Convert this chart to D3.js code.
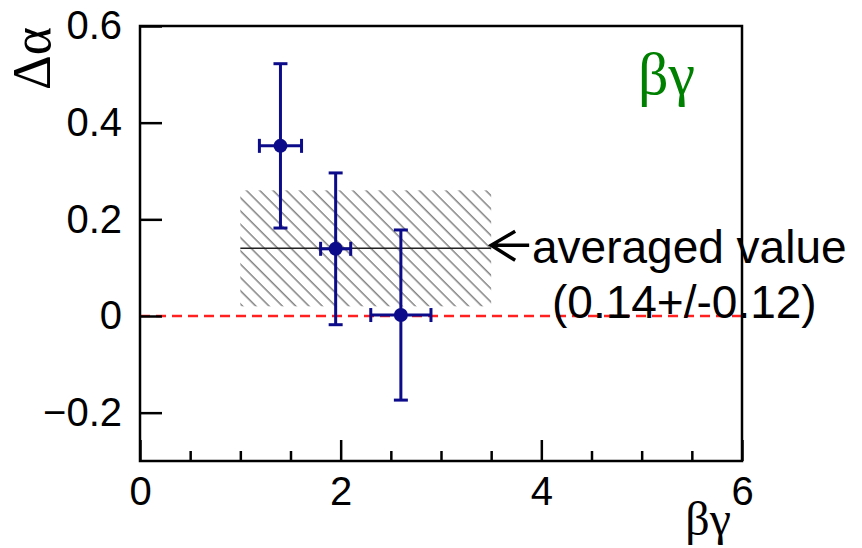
<!DOCTYPE html>
<html>
<head>
<meta charset="utf-8">
<script src="https://cdn.jsdelivr.net/npm/d3@7"></script>
<style>
  body { margin: 0; background: #fff; }
  svg { display: block; }
</style>
</head>
<body>
<div id="chart"></div>
<script>
// measured points (beta*gamma bins)
let betaGamma = [1.4, 1.95, 2.6];
let betaGammaErr = [0.21, 0.15, 0.3];
let deltaAlpha = [0.352, 0.139, 0.002];
let deltaAlphaErr = [0.17, 0.157, 0.176];

// averaged value band
let avgValue = 0.14;
let avgErr = 0.12;
let avgRange = [1, 3.5];

let xTicks = [0, 2, 4, 6];
let xMinorTicks = [0.5, 1, 1.5, 2.5, 3, 3.5, 4.5, 5, 5.5];
let yTicks = [-0.2, 0, 0.2, 0.4, 0.6];
let yTickLabels = ['\u22120.2', '0', '0.2', '0.4', '0.6'];

let width = 862, height = 548;
let margin = {left: 140, right: 120, top: 26, bottom: 87};
let serif = '"Liberation Serif", "Times New Roman", serif';

let xScale = d3.scaleLinear()
  .domain([0, 6])
  .range([margin.left, width - margin.right]);

let yScale = d3.scaleLinear()
  .domain([-0.3, 0.6])
  .range([height - margin.bottom, margin.top]);

let svg = d3.select('#chart').append('svg')
  .attr('width', width)
  .attr('height', height)
  .style('font-family', '"Liberation Sans", Arial, sans-serif');

// hatch pattern
svg.append('defs').append('pattern')
  .attr('id', 'hatch')
  .attr('patternUnits', 'userSpaceOnUse')
  .attr('width', 9.4)
  .attr('height', 9.4)
  .attr('patternTransform', 'rotate(-45)')
  .append('line')
    .attr('x1', 2).attr('y1', 0)
    .attr('x2', 2).attr('y2', 9.4)
    .attr('stroke', '#444')
    .attr('stroke-width', 1);

svg.append('rect')
  .attr('x', xScale(avgRange[0]))
  .attr('y', yScale(avgValue + avgErr))
  .attr('width', xScale(avgRange[1]) - xScale(avgRange[0]))
  .attr('height', yScale(avgValue - avgErr) - yScale(avgValue + avgErr))
  .attr('fill', 'url(#hatch)');

svg.append('line')
  .attr('x1', xScale(avgRange[0]))
  .attr('x2', xScale(avgRange[1]))
  .attr('y1', yScale(avgValue))
  .attr('y2', yScale(avgValue))
  .attr('stroke', '#222')
  .attr('stroke-width', 1.5);

// zero line
svg.append('line')
  .attr('x1', xScale(0))
  .attr('x2', xScale(6))
  .attr('y1', yScale(0))
  .attr('y2', yScale(0))
  .attr('stroke', '#ff2020')
  .attr('stroke-width', 2.4)
  .attr('stroke-dasharray', '10,6');

// axes
let yAxis = d3.axisLeft(yScale)
  .tickValues(yTicks)
  .tickFormat((d, i) => yTickLabels[i])
  .tickSize(-22)
  .tickPadding(18);

let xAxis = d3.axisBottom(xScale)
  .tickValues(xTicks)
  .tickFormat(d3.format('d'))
  .tickSize(-21)
  .tickPadding(16);

let xMinor = d3.axisBottom(xScale)
  .tickValues(xMinorTicks)
  .tickFormat('')
  .tickSize(-10);

let gy = svg.append('g')
  .attr('transform', `translate(${margin.left}, 0)`)
  .call(yAxis);

let gx = svg.append('g')
  .attr('transform', `translate(0, ${height - margin.bottom})`)
  .call(xAxis);

let gxm = svg.append('g')
  .attr('transform', `translate(0, ${height - margin.bottom})`)
  .call(xMinor);

[gy, gx, gxm].forEach(g => {
  g.select('.domain').remove();
  g.selectAll('line').attr('stroke', '#000').attr('stroke-width', 2.5);
  g.selectAll('text')
    .attr('fill', '#000')
    .style('font-size', '40px')
    .style('font-family', '"Liberation Sans", Arial, sans-serif');
});

// frame
svg.append('rect')
  .attr('x', xScale(0))
  .attr('y', yScale(0.6))
  .attr('width', xScale(6) - xScale(0))
  .attr('height', yScale(-0.3) - yScale(0.6))
  .attr('fill', 'none')
  .attr('stroke', '#000')
  .attr('stroke-width', 2.5);

// error bars
let navy = '#0c0c8a';
let pts = betaGamma.map((x, i) => ({x: x, dx: betaGammaErr[i], y: deltaAlpha[i], dy: deltaAlphaErr[i]}));
let eb = svg.append('g').attr('stroke', navy).attr('stroke-width', 3).attr('fill', navy);

pts.forEach(p => {
  let cx = xScale(p.x), cy = yScale(p.y);
  eb.append('line').attr('x1', cx).attr('x2', cx)
    .attr('y1', yScale(p.y + p.dy)).attr('y2', yScale(p.y - p.dy));
  eb.append('line').attr('x1', xScale(p.x - p.dx)).attr('x2', xScale(p.x + p.dx))
    .attr('y1', cy).attr('y2', cy);
  [p.y + p.dy, p.y - p.dy].forEach(v => {
    eb.append('line').attr('x1', cx - 7).attr('x2', cx + 7)
      .attr('y1', yScale(v)).attr('y2', yScale(v));
  });
  [p.x - p.dx, p.x + p.dx].forEach(v => {
    eb.append('line').attr('x1', xScale(v)).attr('x2', xScale(v))
      .attr('y1', cy - 7).attr('y2', cy + 7);
  });
  eb.append('circle').attr('cx', cx).attr('cy', cy).attr('r', 7).attr('stroke', 'none');
});

// arrow + annotation
let ay = yScale(avgValue) - 3;
let ax = xScale(avgRange[1]);
svg.append('path')
  .attr('d', `M${ax + 38},${ay} L${ax},${ay} M${ax + 24},${ay - 14} L${ax},${ay} L${ax + 24},${ay + 15}`)
  .attr('fill', 'none')
  .attr('stroke', '#000')
  .attr('stroke-width', 3.5);

svg.append('text')
  .attr('x', 532).attr('y', 263)
  .style('font-size', '46px')
  .text('averaged value');

svg.append('text')
  .attr('x', 552).attr('y', 318)
  .style('font-size', '46px')
  .text('(0.14+/-0.12)');

// green label
svg.append('text')
  .attr('x', 638).attr('y', 94)
  .attr('fill', '#008000')
  .style('font-family', serif)
  .style('font-size', '60px')
  .text('\u03b2\u03b3');

// axis titles
svg.append('text')
  .attr('x', 731).attr('y', 535)
  .attr('text-anchor', 'end')
  .style('font-family', serif)
  .style('font-size', '48px')
  .text('\u03b2\u03b3');

svg.append('text')
  .attr('transform', 'translate(50, 27) rotate(-90)')
  .attr('text-anchor', 'end')
  .style('font-family', serif)
  .style('font-size', '54px')
  .text('\u0394\u03b1');
</script>
</body>
</html>
